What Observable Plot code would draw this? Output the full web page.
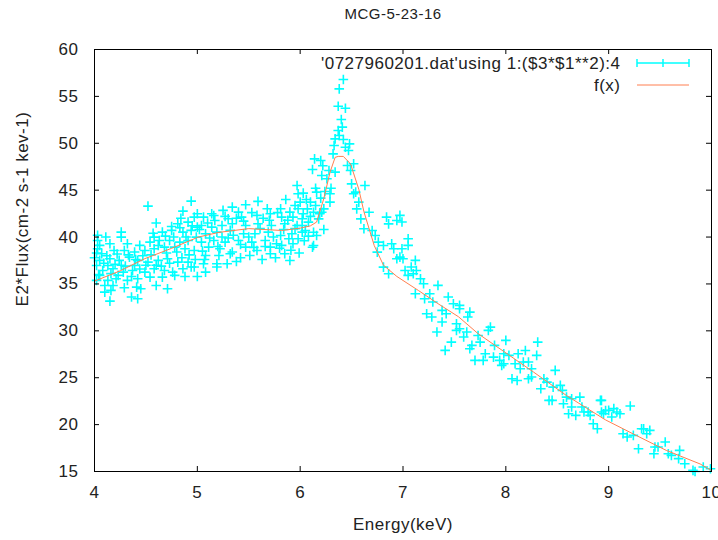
<!DOCTYPE html>
<html>
<head>
<meta charset="utf-8">
<script src="https://cdn.jsdelivr.net/npm/d3@7"></script>
<script src="https://cdn.jsdelivr.net/npm/@observablehq/plot@0.6"></script>
<style>
  html, body { margin: 0; padding: 0; background: white; }
  svg text { letter-spacing: 0.5px; }
</style>
</head>
<body>
<div id="chart"></div>
<script>
const titleText = "MCG-5-23-16";
const xLabel = "Energy(keV)";
const yLabel = "E2*Flux(cm-2 s-1 kev-1)";
const legendData = "'0727960201.dat'using 1:($3*$1**2):4";
const legendModel = "f(x)";
const xTicks = [4, 5, 6, 7, 8, 9, 10];
const yTicks = [15, 20, 25, 30, 35, 40, 45, 50, 55, 60];

const obs4to5 = [
[4.52,43.30],[4.94,43.83],[4.86,42.77],[4.97,42.13],[4.91,41.59],[4.81,41.42],[4.75,41.13],[5.00,42.48],
[4.26,40.53],[4.26,39.99],[4.66,40.53],[4.75,40.71],[4.86,40.53],[4.94,40.71],[5.00,41.06],[4.58,39.99],
[4.05,39.11],[4.15,39.28],[4.32,39.28],[4.44,39.11],[4.54,39.46],[4.63,39.64],[4.73,39.64],[4.83,39.46],
[4.91,39.64],[4.99,39.99],[4.03,39.64],[4.07,38.22],[4.19,38.57],[4.29,38.57],[4.39,38.40],[4.49,38.57],
[4.58,38.75],[4.68,38.93],[4.78,38.93],[4.88,38.75],[4.97,38.57],[4.03,38.75],[4.05,37.51],[4.15,37.69],
[4.24,37.51],[4.34,37.86],[4.42,37.51],[4.52,37.33],[4.62,37.51],[4.71,37.69],[4.81,37.33],[4.91,37.33],
[4.97,36.80],[4.02,36.97],[4.13,36.97],[4.39,36.97],[4.08,36.44],[4.18,36.62],[4.28,36.26],[4.37,36.44],
[4.49,36.26],[4.58,36.62],[4.68,36.44],[4.76,36.26],[4.86,36.62],[4.94,36.80],[4.05,35.91],[4.23,35.91],
[4.66,35.73],[4.78,35.91],[4.88,35.80],[4.02,35.38],[4.13,35.38],[4.21,35.55],[4.32,35.38],[4.42,35.55],
[4.54,35.73],[4.10,34.84],[4.18,34.84],[4.29,34.59],[4.41,34.66],[4.45,34.49],[4.60,34.84],[4.71,34.49],
[4.16,34.31],[4.10,34.13],[4.36,33.60],[4.42,33.42],[4.15,33.17],
[4.00,37.8],[4.02,38.3],[4.04,36.0],[4.09,37.2],[4.12,38.0],[4.16,36.1],[4.20,37.1],[4.22,38.2],
[4.26,37.0],[4.30,36.9],[4.33,38.1],[4.36,35.8],[4.40,37.6],[4.44,36.6],[4.47,38.0],[4.50,37.0],
[4.03,40.2],[4.11,40.0],[4.55,38.1],[4.57,40.4],[4.60,37.0],[4.62,39.1],[4.65,36.9],[4.69,40.1],
[4.70,38.3],[4.73,37.2],[4.77,40.0],[4.80,38.4],[4.83,41.0],[4.85,37.8],[4.89,40.0],[4.92,38.1],
[4.95,41.2],[4.98,37.6],[4.60,41.5],[4.84,42.0]
];
const obs5to6 = [
[5.97,45.50],[5.59,43.80],[5.86,44.01],[5.98,44.62],[6.00,43.73],[5.95,43.37],[5.47,43.44],[5.34,43.19],
[5.14,42.48],[5.25,42.84],[5.40,42.66],[5.68,43.02],[5.81,43.02],[5.90,42.66],[5.98,43.02],[5.06,42.13],
[5.17,41.77],[5.30,41.95],[5.43,42.13],[5.58,42.31],[5.71,42.48],[5.82,42.13],[5.93,42.13],[6.02,41.95],
[5.04,41.24],[5.14,41.06],[5.24,41.24],[5.34,41.42],[5.47,41.24],[5.59,41.42],[5.72,41.24],[5.85,41.42],
[5.97,41.24],[5.08,40.35],[5.19,40.53],[5.32,40.71],[5.45,40.35],[5.56,40.35],[5.69,40.53],[5.81,40.17],
[5.92,40.35],[6.02,40.53],[5.04,39.46],[5.16,39.64],[5.27,39.46],[5.40,39.64],[5.53,39.46],[5.66,39.64],
[5.77,39.29],[5.89,39.82],[5.98,39.82],[5.11,38.93],[5.22,38.75],[5.34,38.40],[5.47,38.93],[5.58,38.57],
[5.71,38.93],[5.82,39.11],[5.93,39.29],[5.08,38.04],[5.21,38.04],[5.32,38.22],[5.51,38.04],[5.71,38.22],
[5.85,38.22],[5.06,37.15],[5.19,37.15],[5.29,37.15],[5.38,37.40],[5.08,36.26],
[5.02,40.8],[5.05,38.5],[5.10,41.5],[5.12,39.9],[5.16,42.3],[5.20,39.0],[5.24,40.0],[5.27,42.2],
[5.30,39.9],[5.35,40.2],[5.38,42.0],[5.42,39.2],[5.45,41.7],[5.50,40.0],[5.53,42.6],[5.55,38.9],
[5.61,40.9],[5.64,42.0],[5.66,39.0],[5.70,41.8],[5.74,40.0],[5.78,42.6],[5.80,38.8],[5.84,40.8],
[5.88,41.8],[5.91,38.6],[5.95,40.9],[5.99,38.3],[5.63,37.6],[5.76,37.8],[5.90,37.5],[5.42,37.8],
[5.00,35.8],[5.19,36.8],[5.07,37.6]
];
const obs6to7 = [
[6.42,56.80],[6.38,55.80],[6.37,53.95],[6.44,53.74],[6.40,52.53],[6.41,51.72],[6.37,51.36],[6.38,50.83],
[6.34,50.47],[6.42,50.40],[6.48,49.94],[6.33,49.76],[6.44,49.58],[6.47,49.23],[6.32,48.87],[6.14,48.34],
[6.20,48.16],[6.12,47.20],[6.21,46.56],[6.28,47.10],[6.34,46.92],[6.26,46.21],[6.46,47.63],[6.52,47.81],
[6.49,47.10],[6.03,44.68],[6.16,44.79],[6.24,44.86],[6.30,45.21],[6.20,44.15],[6.29,44.61],[6.10,43.72],
[6.15,43.36],[6.07,43.01],[6.23,43.01],[6.29,43.72],[6.03,42.48],[6.13,42.65],[6.21,42.65],[6.18,41.94],
[6.08,41.59],[6.02,41.23],[6.05,40.70],[6.13,40.52],[6.23,40.81],[6.16,40.17],[6.13,39.10],[6.12,38.92],
[6.50,45.67],[6.54,44.79],[6.52,44.61],[6.63,45.50],[6.57,43.72],[6.55,43.01],[6.67,42.65],[6.59,41.94],
[6.62,40.88],[6.70,40.70],[6.73,40.17],[6.76,39.46],[6.84,42.12],[6.86,41.41],[6.94,41.77],[6.81,39.10],
[6.89,39.28],[6.75,38.39],[6.81,36.79],[6.86,36.08],[6.91,38.75],[6.94,37.68],[6.97,37.86],
[6.04,39.6],[6.08,40.1],[6.10,42.2],[6.06,44.0],[6.15,45.2],[6.19,42.5],[6.22,47.6]
];
const obs7to8 = [
[6.97,42.31],[6.99,41.60],[7.05,39.82],[7.05,39.11],[6.99,38.75],[7.00,37.69],[7.12,37.51],[7.13,36.44],
[7.02,36.44],[7.08,36.80],[7.05,35.91],[7.10,36.09],[7.17,35.56],[7.20,35.02],[7.12,33.96],[7.26,33.96],
[7.34,34.85],[7.21,33.42],[7.29,33.07],[7.44,33.60],[7.49,32.89],[7.55,32.71],[7.55,32.36],[7.23,31.82],
[7.28,31.47],[7.38,32.18],[7.38,30.94],[7.42,31.82],[7.65,32.00],[7.63,31.47],[7.52,30.76],[7.55,30.23],
[7.62,29.87],[7.33,29.87],[7.47,28.80],[7.52,30.05],[7.59,29.34],[7.73,29.51],[7.83,30.05],[7.85,30.40],
[7.67,28.45],[7.75,28.80],[7.65,28.09],[7.41,27.92],[7.70,26.85],[7.80,27.56],[7.78,26.85],[7.88,27.20],
[7.89,28.45],[7.94,26.85],[7.96,26.32]
];
const obs8to9 = [
[8.00,28.98],[8.31,28.80],[8.30,27.38],[7.98,27.55],[8.03,27.38],[8.12,27.55],[8.19,27.91],[8.17,26.67],
[8.09,26.49],[7.98,26.49],[8.22,26.67],[8.25,25.96],[8.14,25.96],[8.48,25.78],[8.06,24.89],[8.11,24.71],
[8.22,24.89],[8.25,25.07],[8.37,24.89],[8.40,24.53],[8.34,23.82],[8.46,24.00],[8.53,24.18],[8.55,23.65],
[8.42,22.58],[8.45,22.58],[8.56,22.22],[8.59,22.93],[8.64,22.76],[8.72,22.93],[8.64,21.87],[8.74,21.87],
[8.61,21.16],[8.68,20.98],[8.76,21.34],[8.80,21.34],[8.82,20.98],[8.92,22.58],[8.93,21.34],[8.97,21.51],
[8.85,20.09],[8.89,19.56]
];
const obs9to10 = [
[8.93,22.58],[8.95,21.16],[9.00,21.52],[9.05,21.70],[9.08,21.34],[9.11,21.16],[9.03,20.81],[9.21,21.98],
[9.14,19.03],[9.18,18.68],[9.24,18.85],[9.32,19.56],[9.34,19.56],[9.37,19.03],[9.40,19.39],[9.29,17.43],
[9.45,17.61],[9.48,17.61],[9.55,18.14],[9.44,16.90],[9.58,16.90],[9.61,16.72],[9.68,16.37],[9.69,17.25],
[9.74,15.83],[9.82,15.12],[9.84,15.00],[9.92,15.48],[9.99,15.30]
];

// fitted model f(x)
const modelE = [4.00,4.25,4.49,4.75,5.01,5.21,5.50,5.82,6.00,6.10,6.16,6.23,6.29,6.34,6.37,6.42,6.49,6.57,6.62,6.72,6.81,6.94,7.15,7.34,7.54,7.73,7.98,8.27,8.59,8.97,9.24,9.56,9.89,10.0];
const modelF = [35.3,36.4,37.7,38.8,40.0,40.5,40.9,40.7,40.95,41.2,41.6,44.1,46.9,48.5,48.6,48.6,47.8,45.1,42.7,39.1,37.0,35.8,34.3,32.9,31.5,29.7,27.8,25.6,23.1,20.5,19.0,17.25,15.8,15.1];

const points = [...obs4to5, ...obs5to6, ...obs6to7, ...obs7to8, ...obs8to9, ...obs9to10]
  .map(([e, f]) => ({e, f}));
const model = modelE.map((e, i) => ({e, f: modelF[i]}));

const plusSymbol = {
  draw(ctx, size) {
    const r = Math.sqrt(size / Math.PI);
    ctx.moveTo(-r, 0); ctx.lineTo(r, 0);
    ctx.moveTo(0, -r); ctx.lineTo(0, r);
  }
};

const W = 718, H = 540, mT = 49, mR = 7, mB = 69, mL = 94;
const fW = W - mL - mR, fH = H - mT - mB;
const tick = 5;
const font = "'Liberation Sans', Arial, sans-serif";
const cyan = "#00ffff", coral = "#ff7f50";

const svg = Plot.plot({
  width: W, height: H,
  marginTop: mT, marginRight: mR, marginBottom: mB, marginLeft: mL,
  x: {domain: [4, 10], axis: null},
  y: {domain: [15, 60], axis: null},
  style: {fontFamily: font, fontSize: "17px", background: "white", color: "#222", overflow: "visible"},
  marks: [
    Plot.dot(points, {x: "e", y: "f", symbol: plusSymbol, r: 4.8, stroke: cyan, strokeWidth: 1.6, fill: "none"}),
    Plot.line(model, {x: "e", y: "f", stroke: coral, strokeWidth: 1}),
    Plot.frame({stroke: "#000", strokeWidth: 1}),
    Plot.tickX(xTicks, {x: d => d, insetTop: fH - tick, stroke: "#000"}),
    Plot.tickX(xTicks, {x: d => d, insetBottom: fH - tick, stroke: "#000"}),
    Plot.tickY(yTicks, {y: d => d, insetRight: fW - tick, stroke: "#000"}),
    Plot.tickY(yTicks, {y: d => d, insetLeft: fW - tick, stroke: "#000"}),
    Plot.text(xTicks, {x: d => d, text: d => String(d), frameAnchor: "bottom", dy: 21, lineAnchor: "middle", fill: "#222"}),
    Plot.text(yTicks, {y: d => d, text: d => String(d), frameAnchor: "left", dx: -16, textAnchor: "end", lineAnchor: "middle", fill: "#222"}),
    Plot.text([titleText], {text: d => d, frameAnchor: "top", dx: -10, dy: -35, lineAnchor: "middle", fontSize: 15, fill: "#222"}),
    Plot.text([xLabel], {text: d => d, frameAnchor: "bottom", dy: 53, lineAnchor: "middle", fill: "#222"}),
    Plot.text([legendData], {text: d => d, frameAnchor: "top-right", dx: -91, dy: 14, textAnchor: "end", lineAnchor: "middle", fill: "#222"}),
    Plot.text([legendModel], {text: d => d, frameAnchor: "top-right", dx: -91, dy: 36, textAnchor: "end", lineAnchor: "middle", fill: "#222"})
  ]
});

const g = d3.select(svg).append("g");
// y axis label (rotated)
g.append("text")
  .attr("transform", "translate(22,209) rotate(-90)")
  .attr("text-anchor", "middle")
  .attr("dominant-baseline", "central")
  .attr("fill", "#222")
  .attr("font-family", font)
  .attr("font-size", 17)
  .text(yLabel);

// legend samples
const lx1 = 637, lx2 = 689, ly1 = 63, ly2 = 85;
g.append("line").attr("x1", lx1).attr("x2", lx2).attr("y1", ly1).attr("y2", ly1).attr("stroke", cyan).attr("stroke-width", 1.5);
[lx1, (lx1 + lx2) / 2, lx2].forEach(x => {
  g.append("line").attr("x1", x).attr("x2", x).attr("y1", ly1 - 4).attr("y2", ly1 + 4).attr("stroke", cyan).attr("stroke-width", 1.5);
});
g.append("line").attr("x1", lx1).attr("x2", lx2).attr("y1", ly2).attr("y2", ly2).attr("stroke", coral).attr("stroke-width", 1);

document.getElementById("chart").appendChild(svg);
</script>
</body>
</html>
